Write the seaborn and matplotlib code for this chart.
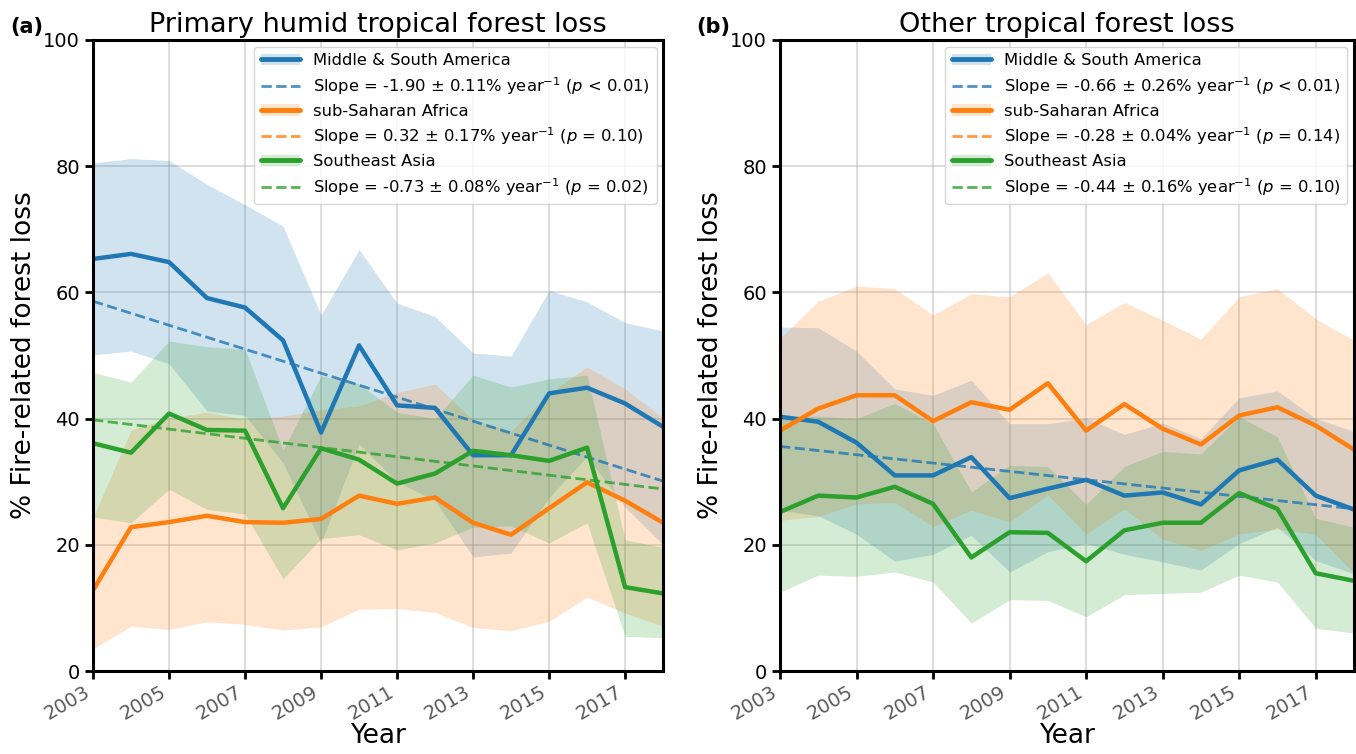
import numpy as np
import matplotlib
matplotlib.use("Agg")
import matplotlib.pyplot as plt
from matplotlib.lines import Line2D
from matplotlib.patches import Patch
import seaborn as sns

# ================= DATA =================
years = list(range(2003, 2019))
regions = ["Middle & South America", "sub-Saharan Africa", "Southeast Asia"]
colors = ["#1f77b4", "#ff7f0e", "#2ca02c"]

# (a) primary humid tropical forest
a_msa_mean = [65.3, 66.1, 64.8, 59.1, 57.6, 52.4, 37.8, 51.6, 42.1, 41.7, 34.2, 34.2, 44.0, 44.9, 42.4, 38.7]
a_msa_upper = [80.5, 81.2, 80.9, 77.1, 73.9, 70.5, 56.4, 66.8, 58.3, 56.2, 50.4, 49.9, 60.3, 58.5, 55.2, 53.9]
a_msa_lower = [50.1, 50.7, 48.7, 41.2, 40.5, 33.0, 20.3, 36.0, 30.0, 27.0, 18.1, 18.7, 27.5, 34.0, 26.0, 20.0]

a_ssa_mean = [12.8, 22.8, 23.6, 24.6, 23.6, 23.5, 24.1, 27.8, 26.5, 27.5, 23.5, 21.6, 25.8, 29.9, 27.0, 23.5]
a_ssa_upper = [24.3, 38.2, 40.1, 41.0, 39.9, 40.4, 41.4, 42.0, 44.1, 45.5, 39.8, 38.0, 44.0, 48.2, 44.7, 40.1]
a_ssa_lower = [3.5, 7.1, 6.6, 7.8, 7.4, 6.5, 7.0, 9.8, 9.9, 9.3, 6.9, 6.4, 7.9, 11.7, 9.2, 7.1]

a_sea_mean = [36.1, 34.6, 40.8, 38.2, 38.1, 25.8, 35.3, 33.5, 29.7, 31.3, 34.9, 34.2, 33.3, 35.4, 13.3, 12.3]
a_sea_upper = [47.3, 45.8, 52.3, 51.4, 51.0, 35.0, 46.8, 45.5, 41.0, 40.0, 46.9, 45.0, 46.3, 46.9, 20.8, 19.6]
a_sea_lower = [24.4, 23.5, 28.8, 25.6, 24.9, 14.6, 21.0, 21.6, 19.2, 20.3, 22.8, 23.0, 20.3, 23.5, 5.5, 5.3]

a_slope = [-1.90, 0.32, -0.73]
a_slope_err = [0.11, 0.17, 0.08]
a_start = [58.6, 22.5, 39.8]
a_p = ["< 0.01", "= 0.10", "= 0.02"]
a_signif = [True, False, True]

# (b) other tropical forest
b_msa_mean = [40.3, 39.5, 36.2, 31.0, 31.0, 33.9, 27.4, 28.9, 30.3, 27.8, 28.3, 26.4, 31.8, 33.5, 27.8, 25.6]
b_msa_upper = [54.5, 54.4, 50.7, 44.7, 43.7, 46.1, 39.2, 39.2, 40.1, 37.5, 39.3, 36.8, 43.3, 44.4, 40.0, 38.0]
b_msa_lower = [25.5, 24.6, 21.7, 17.4, 18.5, 21.5, 15.7, 18.9, 20.2, 18.5, 17.3, 16.0, 20.2, 22.8, 17.5, 15.4]

b_ssa_mean = [38.1, 41.6, 43.7, 43.7, 39.6, 42.6, 41.4, 45.6, 38.1, 42.3, 38.4, 35.9, 40.5, 41.8, 38.9, 35.1]
b_ssa_upper = [52.7, 58.6, 61.0, 60.6, 56.4, 59.8, 59.3, 63.1, 54.9, 58.4, 55.6, 52.6, 59.3, 60.6, 55.8, 52.4]
b_ssa_lower = [23.9, 24.5, 26.5, 26.7, 22.9, 25.5, 23.6, 27.9, 21.7, 25.7, 20.9, 19.1, 21.7, 22.5, 21.7, 15.5]

b_sea_mean = [25.2, 27.8, 27.5, 29.2, 26.5, 18.0, 22.0, 21.9, 17.4, 22.3, 23.5, 23.5, 28.2, 25.7, 15.5, 14.3]
b_sea_upper = [40.3, 40.4, 40.0, 42.4, 39.2, 28.4, 32.6, 32.4, 26.4, 32.4, 34.8, 34.4, 40.3, 37.1, 24.2, 22.8]
b_sea_lower = [12.5, 15.2, 15.0, 15.7, 14.1, 7.6, 11.3, 11.2, 8.6, 12.1, 12.3, 12.5, 15.2, 14.1, 6.8, 6.0]

b_slope = [-0.66, -0.28, -0.44]
b_slope_err = [0.26, 0.04, 0.16]
b_start = [35.6, 42.5, 27.0]
b_p = ["< 0.01", "= 0.14", "= 0.10"]
b_signif = [True, False, False]

# ================= STYLE =================
sns.set_theme(style="ticks")
plt.rcParams["font.family"] = ["DejaVu Sans"]
plt.rcParams["text.color"] = "black"
plt.rcParams["axes.labelcolor"] = "black"

fig = plt.figure(figsize=(13.56, 7.54), dpi=100)
ax_a = fig.add_axes([0.0686, 0.110, 0.4204, 0.837])
ax_b = fig.add_axes([0.5752, 0.110, 0.4233, 0.837])

panels = [
    (ax_a, "(a)", "Primary humid tropical forest loss",
     [(a_msa_mean, a_msa_lower, a_msa_upper),
      (a_ssa_mean, a_ssa_lower, a_ssa_upper),
      (a_sea_mean, a_sea_lower, a_sea_upper)],
     a_slope, a_slope_err, a_start, a_p, a_signif),
    (ax_b, "(b)", "Other tropical forest loss",
     [(b_msa_mean, b_msa_lower, b_msa_upper),
      (b_ssa_mean, b_ssa_lower, b_ssa_upper),
      (b_sea_mean, b_sea_lower, b_sea_upper)],
     b_slope, b_slope_err, b_start, b_p, b_signif),
]

yrs = np.array(years)

for ax, tag, title, series, slopes, errs, starts, pvals, signif in panels:
    handles, labels = [], []
    for i, (mean, lo, hi) in enumerate(series):
        c = colors[i]
        ax.fill_between(years, lo, hi, color=c, alpha=0.2, linewidth=0)
        sns.lineplot(x=years, y=mean, ax=ax, color=c, linewidth=3.2)
        if signif[i]:
            trend = starts[i] + slopes[i] * (yrs - years[0])
            ax.plot(years, trend, color=c, linestyle="--", linewidth=2, alpha=0.8)
        handles.append((Patch(facecolor=c, alpha=0.2, linewidth=0),
                        Line2D([], [], color=c, linewidth=3.5)))
        labels.append(regions[i])
        handles.append(Line2D([], [], color=c, linestyle="--", linewidth=2, alpha=0.8))
        labels.append(f"Slope = {slopes[i]:.2f} $\\pm$ {errs[i]:.2f}% year$^{{-1}}$ ($p$ {pvals[i]})")

    leg = ax.legend(handles, labels, loc="upper right", fontsize=11.8, handlelength=2.4,
                    labelspacing=0.42, borderaxespad=0.4, framealpha=0.8)
    for t in leg.get_texts():
        t.set_color("black")

    ax.set_xlim(2003, 2018)
    ax.set_ylim(0, 100)
    ax.set_xticks(list(range(2003, 2018, 2)))
    ax.set_yticks(list(range(0, 101, 20)))
    ax.grid(True, color="#b0b0b0", alpha=0.5, linewidth=1.2)
    for side in ax.spines.values():
        side.set_color("black")
        side.set_linewidth(2.2)
    ax.tick_params(axis="both", direction="out", length=6, width=2, color="black")
    ax.tick_params(axis="y", labelsize=14, labelcolor="black")
    ax.tick_params(axis="x", labelsize=14, labelcolor="#5a5a5a", pad=2)
    for lab in ax.get_xticklabels():
        lab.set_rotation(30)
        lab.set_ha("right")
    ax.set_xlabel("Year", fontsize=19, labelpad=0)
    ax.set_ylabel("% Fire-related forest loss", fontsize=19)
    ax.set_title(title, fontsize=19.5, pad=6, color="black")
    ax.text(-0.145, 1.005, tag, transform=ax.transAxes, fontsize=15,
            fontweight="bold", ha="left", va="bottom")

fig.savefig("out.png", dpi=100)
plt.close(fig)
